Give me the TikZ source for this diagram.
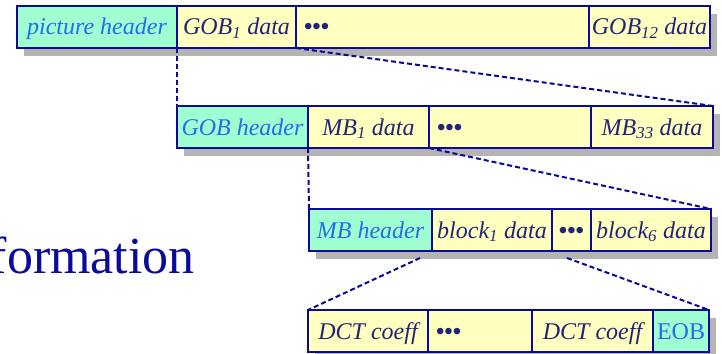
\documentclass[tikz,border=0pt]{standalone}
\usepackage{fontspec}
\setmainfont{Liberation Serif}
\usetikzlibrary{shadows}

\definecolor{hdrfill}{RGB}{160,255,208}
\definecolor{datfill}{RGB}{255,255,192}
\definecolor{edgeblue}{RGB}{10,10,150}
\definecolor{hdrtext}{RGB}{40,105,240}
\definecolor{dattext}{RGB}{35,35,120}
\definecolor{titleblue}{RGB}{10,10,155}
\definecolor{shadowgray}{RGB}{180,180,180}

\begin{document}
\begin{tikzpicture}[x=1pt,y=-1pt,
    hdr/.style={fill=hdrfill,text=hdrtext},
    dat/.style={fill=datfill,text=dattext},
    dotcell/.style={dat,align=left,inner xsep=8pt,text width=#1},
    link/.style={draw=edgeblue,line width=2pt,dash pattern=on 5pt off 3pt}]

  \useasboundingbox (0,0) rectangle (722,353);

  \node[anchor=base east,inner sep=0,text=titleblue,font=\fontsize{52}{52}\selectfont] (info) at (195,273) {formation};

  \begin{scope}[every node/.style={draw=edgeblue,line width=2pt,anchor=north west,outer sep=0,
      inner sep=1pt,minimum height=42,text height=20pt,text depth=4pt,
      font=\fontsize{24}{26}\selectfont\itshape,
      drop shadow={shadow xshift=7pt,shadow yshift=-8pt,fill=shadowgray,opacity=1}}]

    % picture
    \node[hdr,minimum width=160] (pichdr) at (17,6) {picture header};
    \node[dat,minimum width=119] (gob1) at (177,6) {GOB\textsubscript{1} data};
    \node[dotcell=277pt] (gobdots) at (296,6) {\upshape\bfseries •••};
    \node[dat,minimum width=121] (gob12) at (589,6) {GOB\textsubscript{12} data};

    % GOB
    \node[hdr,minimum width=131] (gobhdr) at (177,106) {GOB header};
    \node[dat,minimum width=121] (mb1) at (308,106) {MB\textsubscript{1} data};
    \node[dotcell=146pt] (mbdots) at (429,106) {\upshape\bfseries •••};
    \node[dat,minimum width=122] (mb33) at (591,106) {MB\textsubscript{33} data};

    % MB
    \node[hdr,minimum width=123] (mbhdr) at (309,209) {MB header};
    \node[dat,minimum width=120] (blk1) at (432,209) {block\textsubscript{1} data};
    \node[dat,minimum width=39] (blkdots) at (552,209) {\upshape\bfseries •••};
    \node[dat,minimum width=120] (blk6) at (591,209) {block\textsubscript{6} data};

    % block
    \node[dat,minimum width=120] (dct1) at (308,310) {DCT coeff};
    \node[dotcell=88pt] (dctdots) at (428,310) {\upshape\bfseries •••};
    \node[dat,minimum width=121] (dct2) at (532,310) {DCT coeff};
    \node[hdr,minimum width=56] (eob) at (653,310) {\upshape EOB};
  \end{scope}

  \coordinate (fanL) at (420,258);
  \coordinate (fanR) at (567,258);

  \draw[link] (pichdr.south east) -- (gobhdr.north west);
  \draw[link] (gob1.south east) -- (mb33.north east);
  \draw[link] (gobhdr.south east) -- (mbhdr.north west);
  \draw[link] (mb1.south east) -- (blk6.north east);
  \draw[link] (fanL) -- (dct1.north west);
  \draw[link] (fanR) -- (eob.north east);

\end{tikzpicture}
\end{document}
